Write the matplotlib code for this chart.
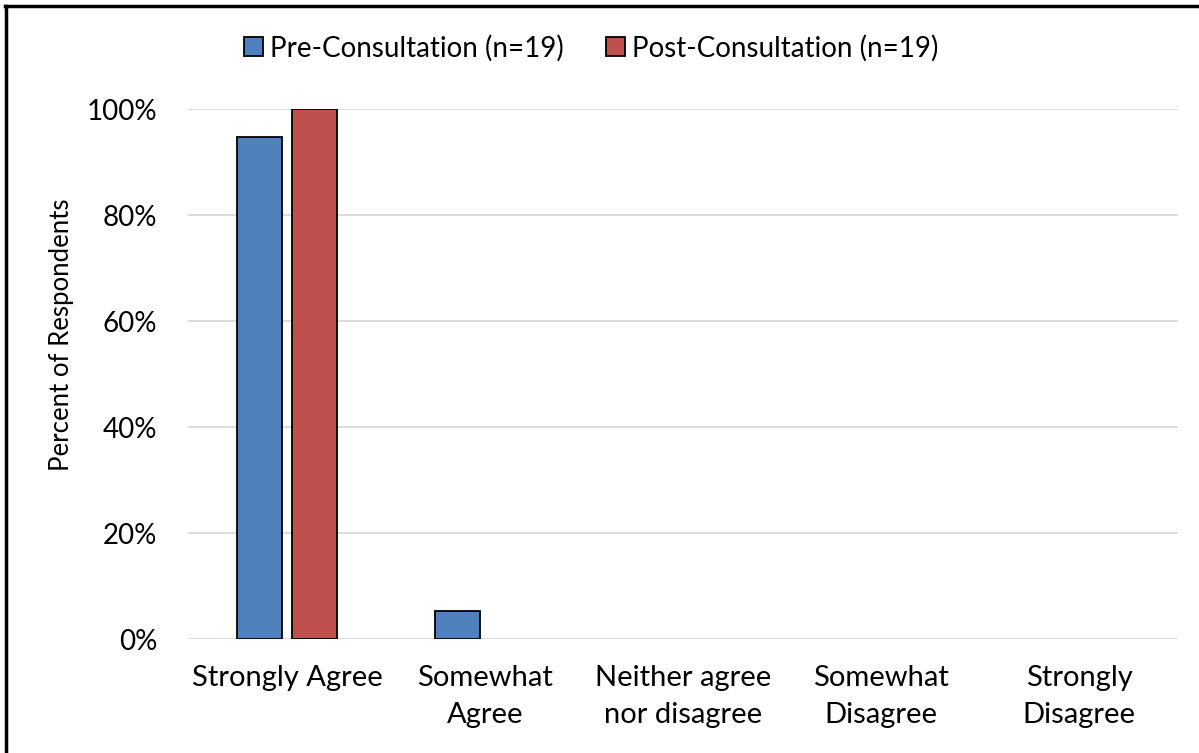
import numpy as np
import matplotlib.pyplot as plt
from matplotlib.lines import Line2D
from matplotlib.patches import Patch

plt.rcParams['font.family'] = ['Lato', 'DejaVu Sans']

categories = ['Strongly Agree', 'Somewhat\nAgree', 'Neither agree\nnor disagree',
              'Somewhat\nDisagree', 'Strongly\nDisagree']
pre = [94.7, 5.3, 0, 0, 0]
post = [100, 0, 0, 0, 0]
labels = ['Pre-Consultation (n=19)', 'Post-Consultation (n=19)']
colors = ['#4F81BD', '#C0504D']

fig = plt.figure(figsize=(11.99, 7.53), dpi=100)
ax = fig.add_axes([188/1199, 1-639/753, 990/1199, 530/753])

x = np.arange(len(categories))
w = 0.227
off = 0.139
for vals, sign, c in [(pre, -1, colors[0]), (post, 1, colors[1])]:
    v = np.array(vals, dtype=float)
    m = v > 0
    ax.bar(x[m] + sign*off, v[m], width=w, color=c, edgecolor='black', linewidth=1.3, zorder=3)

ax.set_xlim(-0.5, len(categories)-0.5)
ax.set_ylim(0, 100)
ax.set_yticks(np.arange(0, 101, 20))
ax.set_yticklabels([f'{t}%' for t in range(0, 101, 20)], fontsize=20)
ax.set_xticks(x)
ax.set_xticklabels(categories, fontsize=21, linespacing=1.5)
ax.tick_params(length=0, pad=22, axis='y')
ax.tick_params(length=0, pad=19, axis='x')
ax.yaxis.grid(True, color='#D9D9D9', linewidth=1.3, zorder=0)
for s in ax.spines.values():
    s.set_visible(False)
ax.set_ylabel('Percent of Respondents', fontsize=18.5)
ax.yaxis.set_label_coords(-0.115, 0.574)

handles = [Patch(facecolor=c, edgecolor='black', linewidth=1.3) for c in colors]
fig.legend(handles, labels, loc='center', bbox_to_anchor=(591/1199, 1-48/753), ncol=2,
           frameon=False, fontsize=20, handlelength=0.7, handleheight=0.7,
           handletextpad=0.25, columnspacing=1.5)

fig.add_artist(Line2D([5/1199, 1], [1-6/753, 1-6/753], color='black', linewidth=2.5))
fig.add_artist(Line2D([6/1199, 6/1199], [0, 1-6/753], color='black', linewidth=2.5))

fig.savefig('out.png', dpi=100)
